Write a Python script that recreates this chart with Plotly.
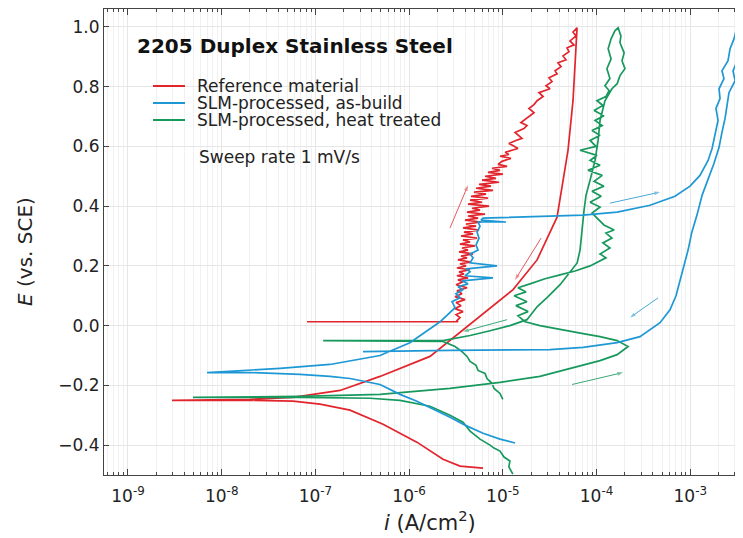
import plotly.graph_objects as go

# ---------------- data (current density i in A/cm^2, potential E in V vs. SCE) ----------------
ref_i = [6.15e-6, 3.49e-6, 2.30e-6, 1.21e-6, 5.27e-7, 2.34e-7, 1.12e-7, 5.77e-8, 2.00e-8, 2.95e-9,
         2.00e-8, 5.77e-8, 1.83e-7, 4.89e-7, 1.67e-6, 5.71e-6, 1.28e-5, 2.32e-5, 3.79e-5, 4.96e-5,
         5.61e-5, 6.20e-5,
         5.61e-5, 6.04e-5, 5.21e-5, 5.75e-5, 4.84e-5, 5.08e-5, 4.39e-5, 4.72e-5, 3.88e-5, 4.18e-5,
         3.61e-5, 3.79e-5, 3.11e-5, 3.35e-5, 2.89e-5, 3.19e-5, 2.43e-5, 2.69e-5, 2.32e-5, 2.15e-5,
         1.90e-5, 2.15e-5, 1.95e-5, 1.73e-5, 1.56e-5, 1.81e-5, 1.68e-5, 1.35e-5, 1.49e-5, 1.60e-5,
         1.38e-5, 1.16e-5, 1.28e-5, 1.45e-5, 1.25e-5, 1.06e-5, 1.16e-5, 9.33e-6, 1.22e-5, 9.80e-6,
         8.89e-6, 1.11e-5, 7.67e-6, 9.33e-6, 6.95e-6, 1.00e-5, 6.46e-6, 8.46e-6, 6.00e-6, 9.11e-6,
         5.57e-6, 7.48e-6, 5.18e-6, 7.86e-6, 4.93e-6, 6.62e-6, 4.58e-6, 6.95e-6, 4.47e-6, 6.00e-6,
         4.25e-6, 7.13e-6, 4.69e-6, 5.71e-6, 4.15e-6, 6.46e-6, 4.25e-6, 5.44e-6, 3.95e-6, 5.85e-6,
         4.05e-6, 5.18e-6, 3.76e-6, 5.57e-6, 3.85e-6, 4.81e-6, 3.58e-6, 5.31e-6, 3.76e-6, 4.47e-6,
         3.49e-6, 5.05e-6, 3.67e-6, 4.25e-6, 3.41e-6, 4.81e-6, 3.58e-6, 4.15e-6, 3.32e-6, 4.58e-6,
         3.49e-6, 4.05e-6, 3.24e-6, 4.47e-6, 3.41e-6, 3.85e-6, 3.24e-6, 4.25e-6, 3.32e-6, 3.76e-6,
         3.17e-6, 4.15e-6, 3.24e-6, 3.67e-6, 3.09e-6, 3.95e-6, 3.17e-6, 3.58e-6, 3.09e-6, 3.76e-6,
         3.17e-6, 3.49e-6, 3.24e-6, 3.32e-6, 8.13e-8]
ref_E = [-0.477, -0.470, -0.447, -0.390, -0.330, -0.283, -0.263, -0.253, -0.250, -0.250,
         -0.247, -0.240, -0.217, -0.170, -0.103, 0.030, 0.120, 0.220, 0.363, 0.587,
         0.753, 0.997,
         0.983, 0.970, 0.953, 0.940, 0.930, 0.917, 0.903, 0.890, 0.880, 0.867,
         0.853, 0.843, 0.830, 0.817, 0.803, 0.793, 0.780, 0.767, 0.753, 0.740,
         0.727, 0.713, 0.703, 0.690, 0.680, 0.670, 0.660, 0.647, 0.637, 0.627,
         0.620, 0.610, 0.603, 0.593, 0.587, 0.580, 0.573, 0.567, 0.560, 0.550,
         0.540, 0.533, 0.527, 0.520, 0.513, 0.507, 0.500, 0.493, 0.487, 0.480,
         0.473, 0.467, 0.460, 0.453, 0.447, 0.440, 0.433, 0.427, 0.420, 0.413,
         0.407, 0.400, 0.393, 0.387, 0.380, 0.373, 0.367, 0.360, 0.353, 0.347,
         0.340, 0.333, 0.327, 0.320, 0.313, 0.307, 0.300, 0.293, 0.287, 0.280,
         0.273, 0.267, 0.260, 0.253, 0.247, 0.240, 0.233, 0.227, 0.220, 0.213,
         0.207, 0.200, 0.193, 0.187, 0.180, 0.173, 0.167, 0.160, 0.153, 0.147,
         0.137, 0.127, 0.117, 0.107, 0.097, 0.087, 0.077, 0.067, 0.057, 0.047,
         0.037, 0.027, 0.017, 0.013, 0.013]

slm_i = [1.35e-5, 9.33e-6, 6.15e-6, 3.95e-6, 2.73e-6, 1.67e-6, 1.21e-6, 8.00e-7, 4.89e-7, 2.34e-7,
         1.43e-7, 6.85e-8, 4.19e-8, 2.00e-8, 6.97e-9, 2.00e-8, 4.19e-8, 1.43e-7, 4.89e-7, 1.02e-6,
         2.14e-6, 3.09e-6, 2.87e-6, 3.49e-6, 3.16e-6, 3.76e-6, 3.32e-6, 4.25e-6, 3.67e-6, 7.85e-6,
         3.95e-6, 4.47e-6, 4.05e-6, 8.67e-6, 4.47e-6, 4.81e-6, 4.47e-6, 5.44e-6, 5.18e-6, 5.57e-6,
         5.31e-6, 5.71e-6, 5.44e-6, 1.08e-5, 5.85e-6, 6.15e-6, 7.18e-5, 1.66e-4, 3.72e-4, 6.88e-4,
         9.95e-4, 1.27e-3, 1.55e-3, 1.71e-3, 1.84e-3, 1.98e-3, 1.88e-3, 2.08e-3, 2.03e-3, 2.29e-3,
         2.18e-3, 2.53e-3, 2.66e-3, 2.93e-3, 3.08e-3, 3.16e-3, 3.40e-3, 3.08e-3, 3.24e-3, 2.86e-3,
         3.01e-3, 2.59e-3, 2.47e-3, 2.35e-3, 2.18e-3, 2.03e-3, 1.79e-3, 1.55e-3, 1.34e-3, 1.18e-3,
         1.04e-3, 9.48e-4, 8.59e-4, 7.78e-4, 7.05e-4, 6.08e-4, 4.76e-4, 2.91e-4, 1.66e-4, 7.18e-5,
         3.19e-5, 2.73e-6, 3.22e-7]
slm_E = [-0.393, -0.380, -0.360, -0.333, -0.307, -0.273, -0.253, -0.230, -0.197, -0.177,
         -0.170, -0.163, -0.160, -0.157, -0.157, -0.150, -0.143, -0.130, -0.100, -0.057,
         0.013, 0.060, 0.080, 0.093, 0.107, 0.120, 0.130, 0.140, 0.150, 0.160,
         0.167, 0.180, 0.190, 0.200, 0.210, 0.227, 0.240, 0.253, 0.270, 0.293,
         0.313, 0.333, 0.347, 0.347, 0.353, 0.360, 0.370, 0.380, 0.403, 0.433,
         0.467, 0.503, 0.553, 0.593, 0.637, 0.687, 0.727, 0.760, 0.793, 0.827,
         0.853, 0.887, 0.927, 0.960, 0.987, 0.997, 0.960, 0.927, 0.893, 0.853,
         0.820, 0.780, 0.737, 0.693, 0.647, 0.597, 0.543, 0.493, 0.437, 0.370,
         0.313, 0.253, 0.203, 0.147, 0.100, 0.053, 0.010, -0.037, -0.057, -0.073,
         -0.080, -0.083, -0.087]

ht_i = [1.28e-5, 1.16e-5, 1.19e-5, 1.03e-5, 9.33e-6, 8.05e-6, 7.30e-6, 5.71e-6, 4.47e-6, 3.76e-6,
        2.73e-6, 1.67e-6, 8.00e-7, 3.83e-7, 6.85e-8, 4.94e-9, 6.85e-8, 4.89e-7, 2.73e-6, 9.33e-6,
        2.49e-5, 4.84e-5, 1.09e-4, 1.66e-4, 2.17e-4, 1.66e-4, 1.09e-4, 7.18e-5, 4.08e-5, 2.49e-5,
        1.73e-5, 1.45e-5, 1.86e-5, 1.38e-5, 1.81e-5, 1.32e-5, 1.77e-5, 1.45e-5, 1.95e-5, 2.82e-5,
        4.08e-5, 5.90e-5, 8.53e-5, 1.04e-4, 1.26e-4, 1.09e-4, 1.39e-4, 1.17e-4, 1.46e-4, 1.26e-4,
        1.54e-4, 1.20e-4, 1.04e-4, 8.95e-5, 1.09e-4, 8.53e-5, 1.12e-4, 8.95e-5, 1.20e-4, 9.42e-5,
        1.15e-4, 8.11e-5, 1.09e-4, 8.53e-5, 1.01e-4, 6.67e-5, 9.88e-5, 8.53e-5, 1.09e-4, 8.95e-5,
        1.15e-4, 9.64e-5, 1.20e-4, 9.42e-5, 1.17e-4, 1.01e-4, 1.26e-4, 1.36e-4, 1.23e-4, 1.39e-4,
        1.29e-4, 1.43e-4, 1.33e-4, 1.43e-4, 1.57e-4, 1.70e-4, 1.82e-4, 1.78e-4, 1.97e-4, 1.87e-4,
        2.01e-4, 1.78e-4, 1.66e-4, 1.46e-4, 1.23e-4, 1.09e-4, 1.04e-4, 9.64e-5, 8.53e-5, 7.73e-5,
        7.36e-5, 7.01e-5, 6.67e-5, 6.21e-5, 5.21e-5, 4.08e-5, 3.04e-5, 2.32e-5, 1.81e-5, 1.19e-5,
        7.30e-6, 4.47e-6, 2.30e-6, 1.21e-7, 2.30e-6, 3.09e-6, 3.67e-6, 4.15e-6, 4.47e-6, 5.18e-6,
        5.44e-6, 6.46e-6, 6.78e-6, 7.67e-6, 8.05e-6, 9.33e-6, 1.00e-5]
ht_E = [-0.497, -0.473, -0.453, -0.440, -0.420, -0.410, -0.400, -0.380, -0.353, -0.323,
        -0.300, -0.270, -0.250, -0.243, -0.240, -0.240, -0.237, -0.230, -0.210, -0.190,
        -0.170, -0.147, -0.117, -0.097, -0.070, -0.050, -0.037, -0.027, -0.013, 0.000,
        0.013, 0.033, 0.047, 0.067, 0.080, 0.100, 0.113, 0.127, 0.140, 0.157,
        0.170, 0.183, 0.200, 0.213, 0.227, 0.240, 0.260, 0.277, 0.293, 0.310,
        0.320, 0.337, 0.357, 0.377, 0.397, 0.413, 0.433, 0.450, 0.467, 0.483,
        0.503, 0.520, 0.537, 0.553, 0.570, 0.587, 0.600, 0.620, 0.637, 0.653,
        0.670, 0.687, 0.703, 0.720, 0.737, 0.753, 0.767, 0.787, 0.803, 0.827,
        0.860, 0.893, 0.927, 0.960, 0.987, 0.997, 0.970, 0.947, 0.913, 0.887,
        0.860, 0.837, 0.810, 0.793, 0.753, 0.687, 0.620, 0.553, 0.487, 0.437,
        0.387, 0.310, 0.253, 0.210, 0.180, 0.137, 0.097, 0.063, 0.020, 0.000,
        -0.017, -0.033, -0.050, -0.050, -0.053, -0.070, -0.087, -0.103, -0.120, -0.133,
        -0.150, -0.160, -0.177, -0.193, -0.210, -0.227, -0.247]

series_names = ["Reference material", "SLM-processed, as-build", "SLM-processed, heat treated"]

x_tick_vals = [1e-9, 1e-8, 1e-7, 1e-6, 1e-5, 1e-4, 1e-3]
x_tick_text = ["10<sup>-9</sup>", "10<sup>-8</sup>", "10<sup>-7</sup>", "10<sup>-6</sup>",
               "10<sup>-5</sup>", "10<sup>-4</sup>", "10<sup>-3</sup>"]
y_tick_vals = [-0.4, -0.2, 0.0, 0.2, 0.4, 0.6, 0.8, 1.0]

# scan-direction arrows: (series index, start i, start E, end i, end E)
scan_arrows = [
    (0, 2.73e-6, 0.327, 4.25e-6, 0.470),
    (0, 2.56e-5, 0.293, 1.35e-5, 0.153),
    (1, 1.39e-4, 0.410, 4.76e-4, 0.447),
    (1, 4.53e-4, 0.093, 2.28e-4, 0.027),
    (2, 1.11e-5, 0.020, 3.76e-6, -0.020),
    (2, 5.48e-5, -0.197, 1.92e-4, -0.157),
]

# ---------------- styling ----------------
COLORS = ["#e2252d", "#1e98d5", "#17995d"]
ARROW_COLORS = ["#e45a5f", "#4aa9d8", "#3aa877"]
FONT = "DejaVu Sans"
# the page body has an 8px margin, so the figure is drawn 8px smaller and offset
W, H = 735, 530
L, R, T, B = 96, 0, 1, 63
PW, PH = W - L - R, H - T - B
PAGE_OFF = 8


def px(xp, yp):
    """position on the screenshot (pixels) -> paper coordinates"""
    return (xp - PAGE_OFF - L) / PW, (H - B - (yp - PAGE_OFF)) / PH


fig = go.Figure()
for xs, ys, c, n in [(ref_i, ref_E, COLORS[0], series_names[0]),
                     (ht_i, ht_E, COLORS[2], series_names[2]),
                     (slm_i, slm_E, COLORS[1], series_names[1])]:
    fig.add_trace(go.Scatter(x=xs, y=ys, mode="lines", name=n, showlegend=False,
                             line=dict(color=c, width=1.7), hoverinfo="skip"))

for k, i0, e0, i1, e1 in scan_arrows:
    fig.add_trace(go.Scatter(x=[i0, i1], y=[e0, e1], mode="lines+markers", showlegend=False,
                             line=dict(color=ARROW_COLORS[k], width=1),
                             marker=dict(symbol=["circle", "arrow"], size=[0, 6],
                                         angleref="previous", color=ARROW_COLORS[k],
                                         line=dict(width=0)),
                             hoverinfo="skip"))

minor_vals = [m * 10.0 ** e for e in range(-10, -1) for m in range(2, 10)]

fig.update_xaxes(type="log", range=[-9.256, -2.437],
                 tickmode="array", tickvals=x_tick_vals, ticktext=x_tick_text,
                 ticks="inside", ticklen=6, tickwidth=1, tickcolor="#444",
                 showline=True, linecolor="#444", linewidth=1, mirror="ticks",
                 showgrid=True, gridcolor="#e6e6e6", gridwidth=1, zeroline=False,
                 ticklabelstandoff=6,
                 minor=dict(tickmode="array", tickvals=minor_vals, ticks="inside", ticklen=3,
                            tickcolor="#444", showgrid=True, gridcolor="#f1f1f1"),
                 tickfont=dict(family=FONT, size=17, color="#222"))
fig.update_yaxes(range=[-0.5, 1.06], tickmode="array", tickvals=y_tick_vals, tickformat=".1f",
                 ticks="inside", ticklen=5, tickwidth=1, tickcolor="#444",
                 showline=True, linecolor="#444", linewidth=1, mirror="ticks",
                 showgrid=True, gridcolor="#e6e6e6", gridwidth=1, zeroline=False,
                 tickfont=dict(family=FONT, size=17, color="#222"))

ann = []
x0, y0 = px(135, 46)
ann.append(dict(text="<b>2205 Duplex Stainless Steel</b>", x=x0, y=y0, xanchor="left", yanchor="middle",
                font=dict(family=FONT, size=20, color="#111")))
legend_rows = [86, 103, 120]
for k, yy in enumerate(legend_rows):
    tx, ty = px(195, yy)
    ann.append(dict(text=series_names[k], x=tx, y=ty, xanchor="left", yanchor="middle",
                    font=dict(family=FONT, size=17, color="#222")))
sx, sy = px(197, 157)
ann.append(dict(text="Sweep rate 1 mV/s", x=sx, y=sy, xanchor="left", yanchor="middle",
                font=dict(family=FONT, size=17, color="#222")))
ax_, ay_ = px(25, 252)
ann.append(dict(text="<i>E</i> (vs. SCE)", x=ax_, y=ay_, xanchor="center", yanchor="middle",
                textangle=-90, font=dict(family=FONT, size=20, color="#222")))
bx, by = px(430, 521)
ann.append(dict(text="<i>i</i> (A/cm<sup>2</sup>)", x=bx, y=by, xanchor="center", yanchor="middle",
                font=dict(family=FONT, size=21, color="#222")))
for a in ann:
    a.update(xref="paper", yref="paper", showarrow=False)

shapes = []
for k, yy in enumerate(legend_rows):
    lx0, ly = px(153, yy)
    lx1, _ = px(185, yy)
    shapes.append(dict(type="line", xref="paper", yref="paper", x0=lx0, x1=lx1, y0=ly, y1=ly,
                       line=dict(color=COLORS[k], width=2)))

fig.update_layout(width=W, height=H, margin=dict(l=L, r=R, t=T, b=B),
                  paper_bgcolor="white", plot_bgcolor="white",
                  annotations=ann, shapes=shapes, showlegend=False,
                  font=dict(family=FONT, color="#222"))

fig.write_html("out.html")
